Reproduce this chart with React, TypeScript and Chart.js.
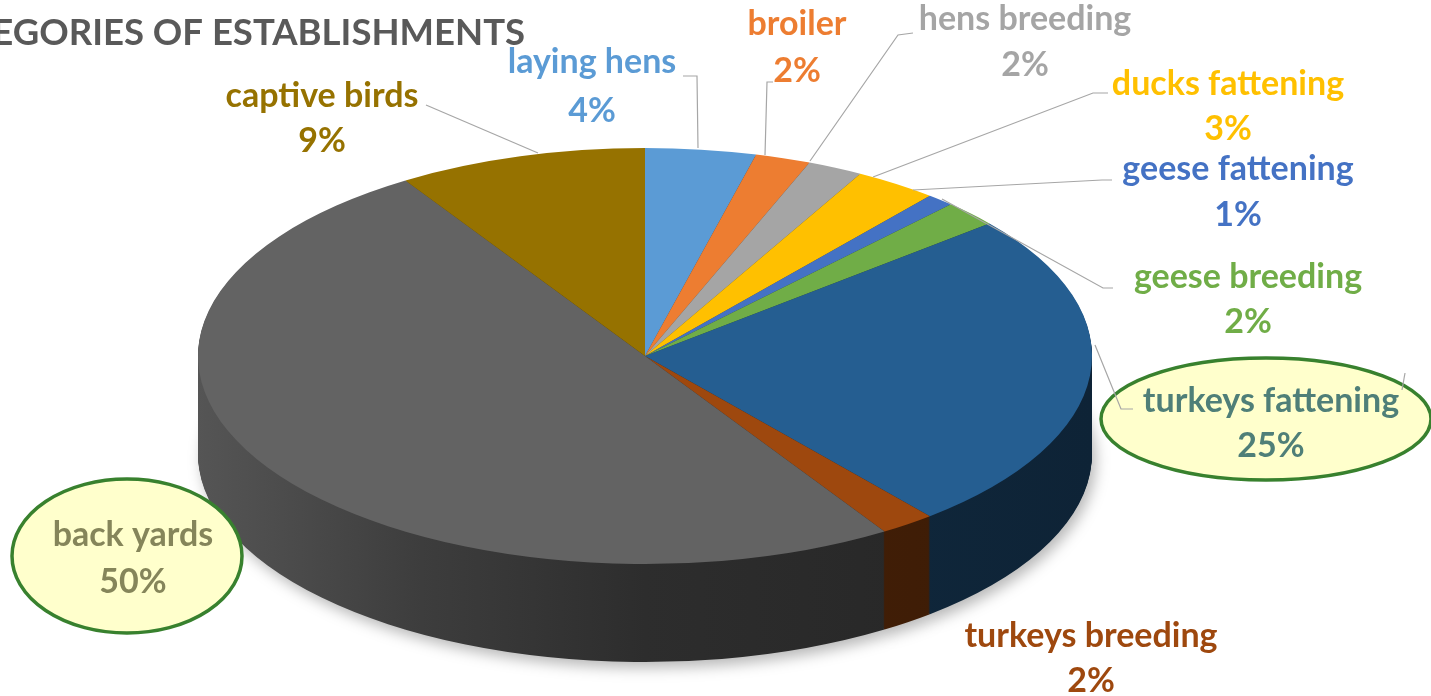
import React, { useEffect, useRef } from 'react';
import { Chart, registerables } from 'chart.js';

Chart.register(...registerables);

// ---------- data ----------
const categories = [
  'laying hens',
  'broiler',
  'hens breeding',
  'ducks fattening',
  'geese fattening',
  'geese breeding',
  'turkeys fattening',
  'turkeys breeding',
  'back yards',
  'captive birds',
];
const shares = [4, 2, 2, 3, 1, 2, 25, 2, 50, 9];
const titleText = 'CATEGORIES OF ESTABLISHMENTS';

// ---------- styles ----------
const sliceColors = ['#5B9BD5', '#ED7D31', '#A5A5A5', '#FFC000', '#4472C4', '#70AD47', '#255E91', '#9E480E', '#636363', '#967200'];
const labelColors = ['#5B9BD5', '#ED7D31', '#A5A5A5', '#FFC000', '#4472C4', '#70AD47', '#4F7F78', '#9E480E', '#85855A', '#967200'];

// ---------- layout ----------
const PIE = { cx: 645, cy: 356, rx: 447, ry: 208, depth: 98 };
const SIDE_STOPS: [number, number][] = [[0, 0.86], [0.25, 0.62], [0.5, 0.45], [0.8, 0.4], [1, 0.37]];
// label centre x, first-line baseline, second-line baseline
const labelPos: [number, number, number][] = [
  [592, 73, 122],
  [797, 35, 82],
  [1025, 30, 76],
  [1228, 95, 140],
  [1238, 180, 226],
  [1248, 288, 333],
  [1271, 412, 457],
  [1091, 647, 692],
  [133, 546, 593],
  [322, 107, 152],
];
const leaderLines: [number, number][][] = [
  [[683, 76], [697, 76], [698, 148]],
  [[773, 82], [767, 82], [765, 155]],
  [[913, 33], [898, 35], [810, 161]],
  [[1108, 93], [1093, 93], [873, 177]],
  [[1112, 180], [1102, 180], [913, 190]],
  [[1113, 288], [1103, 288], [942, 199]],
  [[1133, 409], [1121, 409], [1095, 345]],
  [[1402, 390], [1405, 373]],
  [[426, 105], [538, 153]],
];
const ellipses: [number, number, number, number][] = [
  [1266, 419, 165, 61],
  [127, 556, 115, 77],
];

const shade = (hex: string, f: number) => {
  const n = parseInt(hex.slice(1), 16);
  const r = Math.round(((n >> 16) & 255) * f);
  const g = Math.round(((n >> 8) & 255) * f);
  const b = Math.round((n & 255) * f);
  return `rgb(${r},${g},${b})`;
};

const pie3d = {
  id: 'pie3d',
  beforeDatasetsDraw(chart: any) {
    const ctx = chart.ctx as CanvasRenderingContext2D;
    const arcs = chart.getDatasetMeta(0).data as any[];
    if (!arcs.length) return;
    const { x: cx, y: cy, outerRadius: r } = arcs[0];
    const sx = PIE.rx / r;
    const sy = PIE.ry / r;
    const fakes = arcs.map((arc, i) => {
      const g = ctx.createLinearGradient(cx - r, 0, cx + r, 0);
      SIDE_STOPS.forEach(([p, f]) => g.addColorStop(p, shade(sliceColors[i], f)));
      const fake = Object.create(arc);
      fake.options = { ...arc.options, backgroundColor: g, borderWidth: 0 };
      return fake;
    });
    for (let d = PIE.depth; d >= 1; d--) {
      ctx.save();
      if (d === PIE.depth) {
        ctx.shadowColor = 'rgba(0,0,0,0.28)';
        ctx.shadowBlur = 14;
        ctx.shadowOffsetX = 4;
        ctx.shadowOffsetY = 6;
      }
      ctx.translate(PIE.cx, PIE.cy + d);
      ctx.scale(sx, sy);
      ctx.translate(-cx, -cy);
      fakes.forEach((f) => f.draw(ctx));
      ctx.restore();
    }
    ctx.save();
    ctx.translate(PIE.cx, PIE.cy);
    ctx.scale(sx, sy);
    ctx.translate(-cx, -cy);
  },
  afterDatasetsDraw(chart: any) {
    chart.ctx.restore();
  },
  afterDraw(chart: any) {
    const ctx = chart.ctx as CanvasRenderingContext2D;
    ctx.save();
    // title (cut at left like the source)
    ctx.font = '700 36.5px Lato';
    ctx.fillStyle = '#595959';
    ctx.textAlign = 'right';
    ctx.textBaseline = 'alphabetic';
    ctx.fillText(titleText, 525, 45);

    // highlight ellipses
    ellipses.forEach(([x, y, rx, ry]) => {
      ctx.beginPath();
      ctx.ellipse(x, y, rx, ry, 0, 0, Math.PI * 2);
      ctx.fillStyle = '#FFFFCC';
      ctx.fill();
      ctx.lineWidth = 3.5;
      ctx.strokeStyle = '#38812E';
      ctx.stroke();
    });

    // leader lines
    ctx.strokeStyle = '#A6A6A6';
    ctx.lineWidth = 1.2;
    leaderLines.forEach((pts) => {
      ctx.beginPath();
      pts.forEach(([x, y], i) => (i ? ctx.lineTo(x, y) : ctx.moveTo(x, y)));
      ctx.stroke();
    });

    // labels
    const total = shares.reduce((a, b) => a + b, 0);
    ctx.font = '700 34px Lato';
    ctx.textAlign = 'center';
    categories.forEach((name, i) => {
      const [x, y1, y2] = labelPos[i];
      ctx.fillStyle = labelColors[i];
      ctx.fillText(name, x, y1);
      ctx.fillText(`${Math.round((shares[i] * 100) / total)}%`, x, y2);
    });
    ctx.restore();
  },
};

export default function App() {
  const ref = useRef<HTMLCanvasElement | null>(null);
  useEffect(() => {
    if (!ref.current) return;
    const chart = new Chart(ref.current, {
      type: 'pie',
      data: {
        labels: categories,
        datasets: [
          {
            data: shares,
            backgroundColor: sliceColors,
            borderWidth: 0,
            clip: false as any,
          },
        ],
      },
      options: {
        animation: false,
        responsive: false,
        events: [],
        plugins: {
          legend: { display: false },
          tooltip: { enabled: false },
          title: { display: false },
        },
      },
      plugins: [pie3d],
    });
    return () => chart.destroy();
  }, []);
  return (
    <div style={{ position: 'fixed', left: 0, top: 0, width: 1431, height: 696, background: '#fff' }}>
      <canvas ref={ref} width={1431} height={696} style={{ width: 1431, height: 696, display: 'block' }} />
    </div>
  );
}
